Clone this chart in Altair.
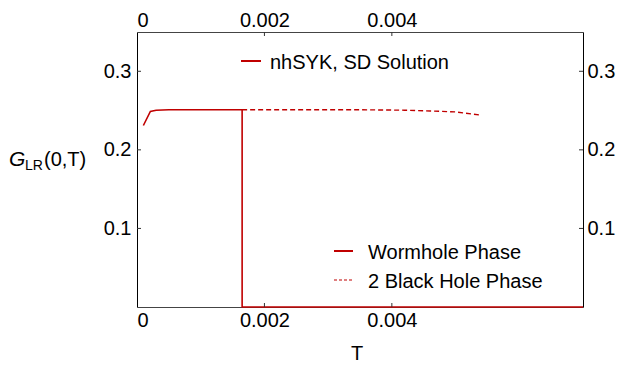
import altair as alt
import pandas as pd

# Wormhole phase: G_LR(0,T) along the stable branch, dropping to zero at the transition
T_WORM = [0.0001, 0.00021, 0.0003, 0.0005, 0.0008, 0.0012, 0.00165, 0.00165, 0.0025, 0.004, 0.0055, 0.007]
G_WORM = [0.231, 0.249, 0.2505, 0.251, 0.251, 0.251, 0.251, 0.0, 0.0, 0.0, 0.0, 0.0]

# Two-black-hole phase continuation (metastable branch)
T_BH = [0.00165, 0.0025, 0.0035, 0.0042, 0.0046, 0.005, 0.00537]
G_BH = [0.251, 0.251, 0.251, 0.2505, 0.2495, 0.2483, 0.2445]

X_TICKS = [0, 0.002, 0.004]
X_INNER = [0.002, 0.004]
Y_TICKS = [0.1, 0.2, 0.3]

LEGEND_TOP = ["nhSYK, SD Solution"]
LEGEND_BOTTOM = ["Wormhole Phase", "2 Black Hole Phase"]
YLABEL = ["G", "LR", "(0,T)"]
XLABEL = ["T"]

RED = "#c00000"
FONT = "Liberation Sans"
W, H = 446, 275

worm = pd.DataFrame({"T": T_WORM, "G": G_WORM, "i": list(range(len(T_WORM)))})
bh = pd.DataFrame({"T": T_BH, "G": G_BH, "i": list(range(len(T_BH)))})

xs = alt.Scale(domain=[0, 0.007], nice=False, zero=False)
ys = alt.Scale(domain=[0, 0.35], nice=False, zero=False)
xfmt = "datum.value == 0 ? '0' : format(datum.value, '.3f')"

common = dict(grid=False, title=None, tickSize=0, labelFont=FONT, labelFontSize=20,
              labelColor="black")

worm_line = alt.Chart(worm).mark_line(color=RED, strokeWidth=1.6).encode(
    x=alt.X("T:Q", scale=xs, axis=alt.Axis(orient="bottom", values=X_TICKS, labelExpr=xfmt,
                                           labelPadding=3, domainColor="#444", **common)),
    y=alt.Y("G:Q", scale=ys, axis=alt.Axis(orient="left", values=Y_TICKS, format=".1f",
                                           labelPadding=6, domainColor="black", **common)),
    order="i:O",
)

bh_line = alt.Chart(bh).mark_line(color=RED, strokeWidth=1.4, strokeDash=[5, 3]).encode(
    x=alt.X("T:Q", scale=xs, axis=alt.Axis(orient="top", values=X_TICKS, labelExpr=xfmt,
                                           labelPadding=2, domainColor="#444", **common)),
    y=alt.Y("G:Q", scale=ys, axis=alt.Axis(orient="right", values=Y_TICKS, format=".1f",
                                           labelPadding=4, domainColor="black", **common)),
    order="i:O",
)

# Inward-pointing tick marks on all four sides
xt = pd.DataFrame({"T": X_INNER})
yt = pd.DataFrame({"G": Y_TICKS})
tick_style = dict(color="#333", strokeWidth=1)
tb = alt.Chart(xt).mark_rule(**tick_style).encode(
    x=alt.X("T:Q", scale=xs, axis=None), y=alt.value(H), y2=alt.value(H - 4))
tt = alt.Chart(xt).mark_rule(**tick_style).encode(
    x=alt.X("T:Q", scale=xs, axis=None), y=alt.value(0), y2=alt.value(4))
tl = alt.Chart(yt).mark_rule(**tick_style).encode(
    y=alt.Y("G:Q", scale=ys, axis=None), x=alt.value(0), x2=alt.value(4))
tr = alt.Chart(yt).mark_rule(**tick_style).encode(
    y=alt.Y("G:Q", scale=ys, axis=None), x=alt.value(W), x2=alt.value(W - 4))

# Legend samples and texts
one = pd.DataFrame({"k": [0]})
leg_top_line = alt.Chart(one).mark_rule(color=RED, strokeWidth=2).encode(
    x=alt.value(104), x2=alt.value(124), y=alt.value(29))
leg_top_text = alt.Chart(pd.DataFrame({"t": LEGEND_TOP})).mark_text(
    font=FONT, fontSize=20, align="left", baseline="alphabetic", color="black").encode(
    x=alt.value(133), y=alt.value(37), text="t:N")

leg_w_line = alt.Chart(one).mark_rule(color=RED, strokeWidth=2).encode(
    x=alt.value(197), x2=alt.value(216), y=alt.value(219))
leg_b_line = alt.Chart(one).mark_rule(color=RED, strokeWidth=1.2, strokeDash=[3, 2]).encode(
    x=alt.value(197), x2=alt.value(216), y=alt.value(248))
leg_w_text = alt.Chart(pd.DataFrame({"t": LEGEND_BOTTOM[:1]})).mark_text(
    font=FONT, fontSize=20, align="left", baseline="alphabetic", color="black").encode(
    x=alt.value(231), y=alt.value(227), text="t:N")
leg_b_text = alt.Chart(pd.DataFrame({"t": LEGEND_BOTTOM[1:]})).mark_text(
    font=FONT, fontSize=20, align="left", baseline="alphabetic", color="black").encode(
    x=alt.value(231), y=alt.value(256), text="t:N")

# Axis titles
yl_g = alt.Chart(pd.DataFrame({"t": YLABEL[:1]})).mark_text(
    font=FONT, fontSize=21, fontStyle="italic", align="left", baseline="alphabetic",
    color="black").encode(x=alt.value(-128), y=alt.value(134), text="t:N")
yl_sub = alt.Chart(pd.DataFrame({"t": YLABEL[1:2]})).mark_text(
    font=FONT, fontSize=14, align="left", baseline="alphabetic", color="black").encode(
    x=alt.value(-112), y=alt.value(138), text="t:N")
yl_rest = alt.Chart(pd.DataFrame({"t": YLABEL[2:]})).mark_text(
    font=FONT, fontSize=20, align="left", baseline="alphabetic", color="black").encode(
    x=alt.value(-93), y=alt.value(134), text="t:N")
xl = alt.Chart(pd.DataFrame({"t": XLABEL})).mark_text(
    font=FONT, fontSize=20, align="center", baseline="alphabetic", color="black").encode(
    x=alt.value(220), y=alt.value(328), text="t:N")

chart = alt.layer(
    worm_line, bh_line, tb, tt, tl, tr,
    leg_top_line, leg_top_text, leg_w_line, leg_b_line, leg_w_text, leg_b_text,
    yl_g, yl_sub, yl_rest, xl,
).resolve_axis(x="independent", y="independent").properties(
    width=W, height=H,
    padding={"left": 137, "top": 32, "right": 35, "bottom": 59},
    autosize=alt.AutoSizeParams(type="none"),
    background="white",
).configure_view(stroke=None)

chart.save("out.html", embed_options={"renderer": "svg", "actions": False})
